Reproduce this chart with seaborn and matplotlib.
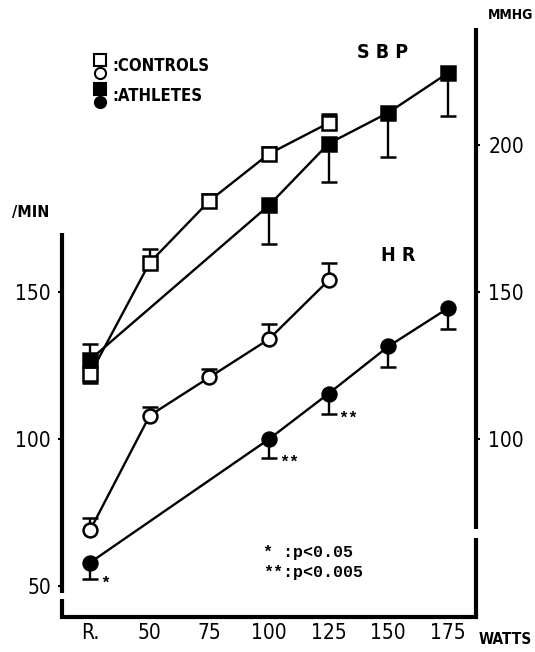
import seaborn as sns
import matplotlib.pyplot as plt

# x categories (R = rest, then workload in watts)
watts = ["R.", "50", "75", "100", "125", "150", "175"]

# systolic blood pressure, mmHg
sbp_ctrl_pos = [0, 1, 2, 3, 4]
sbp_ctrl = [122.0, 160.0, 181.0, 197.0, 207.5]
sbp_ctrl_lo = [3.0, 0, 0, 0, 0]
sbp_ctrl_hi = [0, 4.5, 2.5, 2.5, 3.0]

sbp_ath_pos = [0, 3, 4, 5, 6]
sbp_ath = [127.0, 179.5, 200.5, 211.0, 224.5]
sbp_ath_lo = [0, 13.0, 13.0, 15.0, 14.5]
sbp_ath_hi = [5.5, 0, 0, 0, 0]

# heart rate, beats/min
hr_ctrl_pos = [0, 1, 2, 3, 4]
hr_ctrl = [69.0, 108.0, 121.0, 134.0, 154.0]
hr_ctrl_lo = [0, 0, 0, 0, 0]
hr_ctrl_hi = [4.0, 3.0, 3.0, 5.0, 6.0]

hr_ath_pos = [0, 3, 4, 5, 6]
hr_ath = [58.0, 100.0, 115.5, 131.5, 144.5]
hr_ath_lo = [5.5, 6.5, 7.0, 7.0, 7.0]
hr_ath_hi = [0, 0, 0, 0, 0]
hr_ath_sig = ["*", "**", "**", "", ""]

left_ticks = [50, 100, 150]
right_ticks = [100, 150, 200]

sns.set_style("white")
plt.rcParams['font.family'] = ['DejaVu Sans']
plt.rcParams['font.stretch'] = 'condensed'
for k in ('text.color', 'axes.labelcolor', 'xtick.color', 'ytick.color'):
    plt.rcParams[k] = 'black'

W, H = 535, 652
fig = plt.figure(figsize=(W / 100, H / 100), dpi=100)
ax = fig.add_axes([62 / W, 1 - 617 / H, 414 / W, 589 / H])
ax.set_xlim(-0.47, 6.47)
ax.set_ylim(39.5, 239.8)


def px(x, y):
    return x / W, 1 - y / H


def draw_err(pos, vals, lo, hi):
    for p, v, l, h in zip(pos, vals, lo, hi):
        for e in (-l, h):
            if e != 0:
                ax.vlines(p, v, v + e, color='k', lw=1.7, zorder=1)
                ax.plot([p], [v + e], marker='_', ms=11, mew=1.8,
                        color='k', ls='none', zorder=1)


series = [
    (sbp_ctrl_pos, sbp_ctrl, sbp_ctrl_lo, sbp_ctrl_hi, 's', 'white'),
    (sbp_ath_pos, sbp_ath, sbp_ath_lo, sbp_ath_hi, 's', 'black'),
    (hr_ctrl_pos, hr_ctrl, hr_ctrl_lo, hr_ctrl_hi, 'o', 'white'),
    (hr_ath_pos, hr_ath, hr_ath_lo, hr_ath_hi, 'o', 'black'),
]
for pos, vals, lo, hi, mk, fc in series:
    draw_err(pos, vals, lo, hi)
    sns.lineplot(x=pos, y=vals, ax=ax, color='k', lw=1.7, marker=mk,
                 markersize=10, markerfacecolor=fc, markeredgecolor='k',
                 markeredgewidth=1.8, zorder=3)

for p, v, l, s in zip(hr_ath_pos, hr_ath, hr_ath_lo, hr_ath_sig):
    if s:
        ax.annotate(s, xy=(p, v - l), xytext=(7, -3), textcoords='offset points',
                    ha='left', va='center', fontsize=12, fontweight='bold',
                    family='Liberation Mono')

# axes: hand drawn spines with breaks
for sp in ax.spines.values():
    sp.set_visible(False)
yt = ax.get_yaxis_transform()
kw = dict(transform=yt, clip_on=False, color='k', lw=3,
          solid_capstyle='butt', solid_joinstyle='miter')
ax.plot([0, 0], [47.7, 170], **kw)
ax.plot([0, 0, 1, 1], [45.6, 39.5, 39.5, 66.3], **kw)
ax.plot([1, 1], [69.4, 239.8], **kw)

ax.set_xticks(range(len(watts)))
ax.set_xticklabels(watts)
ax.set_yticks(left_ticks)
ax.tick_params(axis='x', length=0, pad=4, labelsize=15)
ax.tick_params(axis='y', left=True, length=3, width=1.5, direction='out',
               pad=5, labelsize=15)
ax.grid(False)

ax2 = ax.twinx()
ax2.set_ylim(ax.get_ylim())
ax2.set_yticks(right_ticks)
for sp in ax2.spines.values():
    sp.set_visible(False)
ax2.tick_params(axis='y', right=True, length=3, width=1.5, direction='out',
                pad=6, labelsize=15)
ax2.grid(False)

# labels and legend
bold = dict(fontweight='bold', va='center')
fig.text(*px(12, 212), "/MIN", ha='left', fontsize=11.5, **bold)
fig.text(*px(488, 15), "MMHG", ha='left', fontsize=10, **bold)
fig.text(*px(383, 52), "S B P", ha='center', fontsize=14, **bold)
fig.text(*px(398, 256), "H R", ha='center', fontsize=14, **bold)
fig.text(*px(479, 640), "WATTS", ha='left', fontsize=11, **bold)

leg = [(60, 's', 'white'), (73, 'o', 'white'), (89, 's', 'black'), (102, 'o', 'black')]
for y, mk, fc in leg:
    ax.plot([px(100, y)[0]], [px(100, y)[1]], transform=fig.transFigure,
            clip_on=False, marker=mk, ms=8, mfc=fc, mec='k', mew=1.5, ls='none')
fig.text(*px(112, 66), ":CONTROLS", ha='left', fontsize=12, **bold)
fig.text(*px(112, 96), ":ATHLETES", ha='left', fontsize=12, **bold)

fig.text(*px(263, 553), "* :p<0.05", ha='left', fontsize=12,
         family='Liberation Mono', **bold)
fig.text(*px(263, 573), "**:p<0.005", ha='left', fontsize=12,
         family='Liberation Mono', **bold)

fig.savefig("out.png", dpi=100)
plt.close(fig)
